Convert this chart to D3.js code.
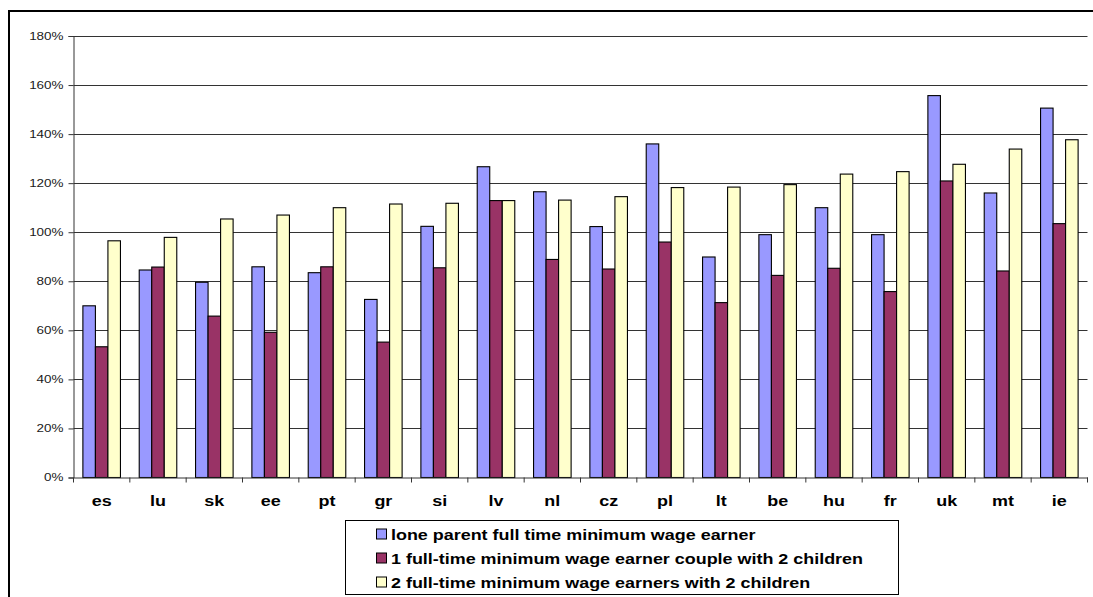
<!DOCTYPE html>
<html>
<head>
<meta charset="utf-8">
<script src="https://cdn.jsdelivr.net/npm/d3@7"></script>
<style>
  html, body { margin: 0; padding: 0; background: #fff; }
  svg { display: block; }
</style>
</head>
<body>
<script>
const categories = ["es","lu","sk","ee","pt","gr","si","lv","nl","cz","pl","lt","be","hu","fr","uk","mt","ie"];
const seriesNames = [
  "lone parent full time minimum wage earner",
  "1 full-time minimum wage earner couple with 2 children",
  "2 full-time minimum wage earners with 2 children"
];
const loneParent = [70.0, 84.6, 79.6, 85.9, 83.5, 72.6, 102.4, 126.7, 116.5, 102.3, 136.0, 89.9, 99.0, 110.0, 99.0, 155.7, 116.0, 150.6];
const oneEarnerCouple = [53.3, 85.8, 65.8, 59.2, 85.9, 55.2, 85.5, 112.9, 88.9, 85.0, 96.0, 71.3, 82.4, 85.3, 75.8, 120.9, 84.2, 103.5];
const twoEarners = [96.5, 97.9, 105.4, 107.0, 110.0, 111.5, 111.8, 112.9, 113.1, 114.5, 118.2, 118.4, 119.4, 123.7, 124.7, 127.7, 133.9, 137.7];
const yTicks = [0, 20, 40, 60, 80, 100, 120, 140, 160, 180];
const colors = ["#9999FF", "#993366", "#FFFFCC"];

(function () {
const W = 1093, H = 597;
const FONT = "Liberation Sans, Arial, sans-serif";
const STRETCH = 1.28;
const svg = d3.select("body").append("svg").attr("width", W).attr("height", H);

function stretch(sel, k) {
  sel.each(function () {
    const len = this.getComputedTextLength();
    d3.select(this).attr("textLength", len * k).attr("lengthAdjust", "spacingAndGlyphs");
  });
}

// outer frame (top + left edges visible)
svg.append("line").attr("x1", 9).attr("x2", W).attr("y1", 11).attr("y2", 11)
  .attr("stroke", "#000").attr("stroke-width", 2);
svg.append("line").attr("x1", 9).attr("x2", 9).attr("y1", 10).attr("y2", H)
  .attr("stroke", "#000").attr("stroke-width", 2);

const pLeft = 73.5, pRight = 1087.5, pTop = 36, pBottom = 477.5;
const x = d3.scaleBand().domain(categories).range([pLeft, pRight]).paddingInner(0).paddingOuter(0);
const y = d3.scaleLinear().domain([0, 180]).range([pBottom, pTop]);

// gridlines
svg.append("g").selectAll("line").data(yTicks.filter(d => d > 0)).join("line")
  .attr("x1", pLeft).attr("x2", pRight)
  .attr("y1", d => Math.round(y(d)) + 0.5).attr("y2", d => Math.round(y(d)) + 0.5)
  .attr("stroke", "#333").attr("stroke-width", 1);

// bars
const series = [loneParent, oneEarnerCouple, twoEarners];
const bw = x.bandwidth() / 4.5;
const inner = d3.scaleBand().domain([0, 1, 2]).range([0, 3 * bw]);
const g = svg.append("g");
series.forEach((vals, si) => {
  g.append("g").selectAll("rect").data(vals).join("rect")
    .attr("x", (d, i) => x(categories[i]) + 0.75 * bw + inner(si))
    .attr("y", d => y(d))
    .attr("width", inner.bandwidth())
    .attr("height", d => y(0) - y(d))
    .attr("fill", colors[si])
    .attr("stroke", "#000").attr("stroke-width", 1.1);
});

// y axis
const yAxis = d3.axisLeft(y).tickValues(yTicks).tickFormat(d => d + "%").tickSize(5).tickPadding(5);
const ya = svg.append("g").attr("transform", `translate(${pLeft},0)`).call(yAxis);
ya.select(".domain").attr("stroke", "#333");
ya.selectAll(".tick line").attr("stroke", "#333");
ya.selectAll("text").attr("font-family", FONT).attr("font-size", 10.5).attr("fill", "#1a1a1a");
stretch(ya.selectAll("text"), STRETCH);

// x axis
const xa = svg.append("g").attr("transform", `translate(0,${pBottom})`)
  .call(d3.axisBottom(x).tickSize(0).tickPadding(19));
xa.select(".domain").attr("stroke", "#333");
xa.selectAll("text").attr("font-family", FONT)
  .attr("font-size", 14).attr("font-weight", "bold").attr("fill", "#000");
stretch(xa.selectAll("text"), STRETCH);
// category boundary ticks
svg.append("g").selectAll("line").data(d3.range(categories.length + 1)).join("line")
  .attr("x1", i => pLeft + i * x.step()).attr("x2", i => pLeft + i * x.step())
  .attr("y1", pBottom).attr("y2", pBottom + 5)
  .attr("stroke", "#333");

// legend
const lg = svg.append("g");
lg.append("rect").attr("x", 345.5).attr("y", 520.5).attr("width", 553).attr("height", 74)
  .attr("fill", "#fff").attr("stroke", "#000").attr("stroke-width", 1);
seriesNames.forEach((name, i) => {
  const cy = 533.5 + i * 24;
  lg.append("rect").attr("x", 376.5).attr("y", cy - 4.5).attr("width", 10).attr("height", 10)
    .attr("fill", colors[i]).attr("stroke", "#000").attr("stroke-width", 1);
  const t = lg.append("text").attr("x", 391).attr("y", cy + 6)
    .attr("font-family", FONT).attr("font-size", 14)
    .attr("font-weight", "bold").attr("fill", "#000").text(name);
  stretch(t, STRETCH);
});
})();
</script>
</body>
</html>
